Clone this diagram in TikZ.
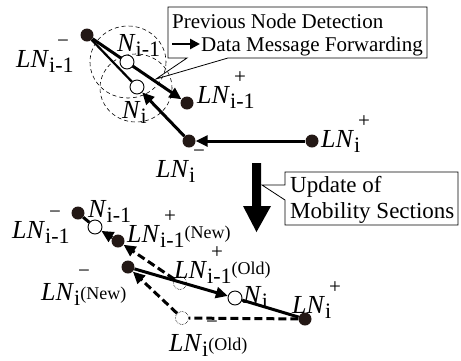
\documentclass[tikz,border=0pt]{standalone}
\usepackage{fontspec}
\setmainfont{Liberation Serif}
\usetikzlibrary{arrows.meta}
\pgfdeclarelayer{bg}
\pgfsetlayers{bg,main}
\definecolor{dotc}{RGB}{35,24,21}
\newdimen\supshift
\supshift=4pt
\newdimen\supraise
\supraise=20pt
\newdimen\extraraise
\extraraise=4pt
\newcommand\fs[1]{\fontsize{#1}{#1}\selectfont}
\newcommand\LNlab[3][]{{\fs{26}\itshape LN\/}\rlap{\hspace{\supshift}\raisebox{\supraise}{\fs{21}#3}}\raisebox{-5pt}{\fs{22}#2}\raisebox{\extraraise}{\fs{18}#1}}
\newcommand\Nlab[1]{{\fs{26}\itshape N\/}\raisebox{-5pt}{\fs{22}#1}}
\begin{document}
\begin{tikzpicture}[x=1pt,y=-1pt,
  dot/.style={circle, fill=dotc, inner sep=0pt, minimum size=13pt},
  hol/.style={circle, draw, fill=white, line width=0.9pt, inner sep=0pt, minimum size=14pt},
  old/.style={circle, draw, densely dotted, line width=0.6pt, inner sep=0pt, minimum size=13pt},
  lab/.style={anchor=base west, inner sep=0pt},
  tip/.style={-{Triangle[length=12pt,width=11pt]}},
  thk/.style={line width=3pt},
  thn/.style={line width=2.2pt},
  dsh/.style={line width=3pt, dash pattern=on 8pt off 4pt},
  zone/.style={draw, line width=0.6pt, dash pattern=on 4pt off 3pt},
  bubble/.style={draw, line width=0.8pt},
  btxt/.style={anchor=base west, inner sep=0pt, font=\fs{21}},
  utxt/.style={anchor=base west, inner sep=0pt, font=\fs{23}},
]
\useasboundingbox (0,0) rectangle (461,360);

% ---------- top section ----------
\node[dot] (a1) at (87,35) {};
\node[hol] (n1) at (127,62) {};
\node[hol] (n2) at (137,87) {};
\node[dot] (a2) at (187,103) {};
\node[dot] (b1) at (189,141) {};
\node[dot] (b2) at (312,141) {};

\begin{pgfonlayer}{bg}
  \draw[zone] (128,62) ellipse [x radius=38, y radius=36];
  \draw[zone] (136,88) ellipse [x radius=36, y radius=34];
  \draw[thk,tip] (a1) -- (a2);
  \draw[thn] (a1) -- (n2);
  \draw[thk,tip] (b1) -- (n2);
  \draw[thk,tip] (b2) -- (b1);
\end{pgfonlayer}

\node[lab] (la1) at (16,67) {\supshift=8pt\LNlab{i-1}{−}};
\node[lab] (ln1) at (117,51) {\Nlab{i-1}};
\node[lab] (ln2) at (122,118) {\Nlab{i}};
\node[lab] (la2) at (197,103) {\LNlab{i-1}{+}};
\node[lab] (lb1) at (156,177) {\LNlab{i}{−}};
\node[lab] (lb2) at (321,147) {\LNlab{i}{+}};

% callout box (top)
\draw[bubble] (168,7) -- (427,7) -- (427,58) -- (228,58) -- (156,79) -- (187,58) -- (168,58) -- cycle;
\node[btxt] (t1) at (172,28) {Previous Node Detection};
\node[btxt] (t2) at (201,51) {Data Message Forwarding};
\coordinate (ar1) at (172,44);
\coordinate (ar2) at (200,44);
\draw[line width=2.6pt,-{Triangle[length=10pt,width=10pt]}] (ar1) -- (ar2);

% ---------- big arrow and update box ----------
\fill (252,163) -- (261,163) -- (261,206) -- (271,206) -- (256.5,232) -- (243,206) -- (252,206) -- cycle;
\draw[bubble] (285,172) -- (458,172) -- (458,225) -- (285,225) -- (285,200) -- (262,185) -- (285,185) -- cycle;
\node[utxt] (u1) at (290,192) {Update of};
\node[utxt] (u2) at (290,218) {Mobility Sections};

% ---------- lower section ----------
\node[dot] (c1) at (78,213) {};
\node[hol] (m1) at (95,227) {};
\node[dot] (c2) at (118,241) {};
\node[dot] (d1) at (128,267) {};
\node[old] (o1) at (180,283) {};
\node[hol] (m2) at (235,298) {};
\node[dot] (d2) at (305,319) {};
\node[old] (o2) at (182,318) {};

\begin{pgfonlayer}{bg}
  \draw[thk] (c1) -- (m1);
  \draw[thk,tip] (c2) -- (m1);
  \draw[dsh,tip] (o1) -- (c2);
  \draw[thk,tip] (d1) -- (m2);
  \draw[thk] (m2) -- (d2);
  \draw[dsh] (d2) -- (o2);
  \draw[dsh,tip] (o2) -- (d1);
\end{pgfonlayer}

\node[lab] (lc1) at (12,238) {\LNlab{i-1}{−}};
\node[lab] (lm1) at (88,217) {\Nlab{i-1}};
\node[lab] (lc2) at (127,242) {\LNlab[(New)]{i-1}{+}};
\node[lab] (lo1) at (174,278) {\LNlab[(Old)]{i-1}{+}};
\node[lab] (ld1) at (41,300) {\supraise=23pt\extraraise=1pt\LNlab[(New)]{i}{−}};
\node[lab] (lm2) at (243,303) {\Nlab{i}};
\node[lab] (ld2) at (292,313) {\LNlab{i}{+}};
\node[lab] (lo2) at (169,351) {\supraise=23pt\extraraise=1pt\LNlab[(Old)]{i}{−}};
\end{tikzpicture}
\end{document}
